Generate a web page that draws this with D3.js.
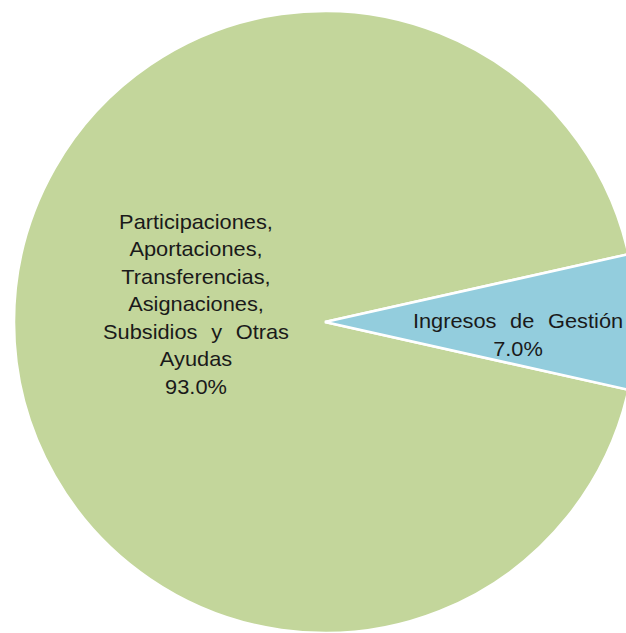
<!DOCTYPE html>
<html>
<head>
<meta charset="utf-8">
<script src="https://cdn.jsdelivr.net/npm/d3@7/dist/d3.min.js"></script>
<style>
  html, body { margin: 0; padding: 0; background: #ffffff; }
  svg { display: block; }
</style>
</head>
<body>
<svg id="chart" width="626" height="633"></svg>
<script>
const categories = ["Participaciones, Aportaciones, Transferencias, Asignaciones, Subsidios y Otras Ayudas", "Ingresos de Gestión"];
const labelLines = [
  ["Participaciones,", "Aportaciones,", "Transferencias,", "Asignaciones,", "Subsidios y Otras", "Ayudas"],
  ["Ingresos de Gestión"]
];
const values = [93.0, 7.0];
const colors = ["#C3D69B", "#93CDDD"];

const svg = d3.select("#chart");
const cx = 325, cy = 322, r = 311;

const total = d3.sum(values);
const blueAngle = values[1] / total * 2 * Math.PI;
const start = Math.PI / 2 + blueAngle / 2;

const pie = d3.pie().sort(null).value(d => d.v)
  .startAngle(start).endAngle(start + 2 * Math.PI);
const data = pie(categories.map((c, i) => ({c, v: values[i], i})));

const arc = d3.arc().innerRadius(0).outerRadius(r);
const g = svg.append("g").attr("transform", `translate(${cx},${cy})`);

g.selectAll("path.slice").data(data).enter().append("path")
  .attr("class", "slice")
  .attr("d", arc)
  .attr("fill", d => colors[d.data.i])
  .attr("stroke", "#ffffff")
  .attr("stroke-width", 2.5)
  .attr("stroke-linejoin", "miter");

// labels
const labelPos = [
  {x: 196, y0: 229, dy: 27.5},
  {x: 518, y0: 328, dy: 28}
];
data.forEach(d => {
  const i = d.data.i;
  const lines = labelLines[i].concat([d3.format(".1f")(d.data.v) + "%"]);
  const p = labelPos[i];
  const t = svg.append("text")
    .attr("transform", `translate(${p.x},0) scale(1.09,1)`)
    .attr("font-family", "Liberation Sans, Arial, sans-serif")
    .attr("font-size", 20)
    .attr("word-spacing", 7)
    .attr("fill", "#1a1a1a")
    .attr("text-anchor", "middle");
  lines.forEach((ln, k) => {
    t.append("tspan").attr("x", 0).attr("y", p.y0 + k * p.dy).text(ln);
  });
});
</script>
</body>
</html>
